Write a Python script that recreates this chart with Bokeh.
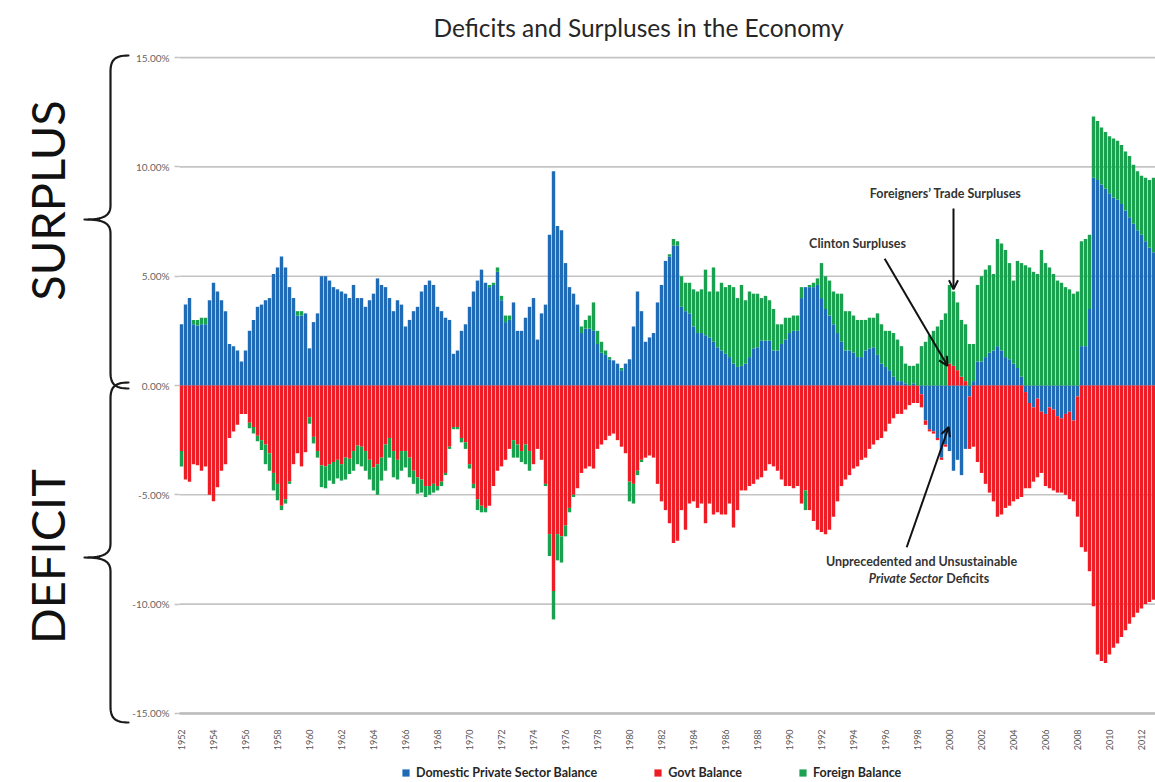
import numpy as np
from math import pi
from bokeh.plotting import figure
from bokeh.models import (ColumnDataSource, Range1d, FixedTicker, PrintfTickFormatter,
                          Legend, LegendItem, Arrow, OpenHead)
from bokeh.embed import file_html
from bokeh.resources import INLINE
from bokeh.core.properties import value

# ---------------- data (quarterly, % of GDP), 1952Q1 .. 2012Q4 ----------------
first_year = 1952
private = [
    2.8, 3.7, 4.0, 2.8,   2.75, 2.8, 2.8, 3.9,   4.7, 4.3, 3.9, 3.4,   1.9, 1.8, 1.6, 1.1,
    1.6, 2.5, 3.0, 3.6,   3.7, 3.9, 4.0, 5.1,   5.4, 5.9, 5.4, 4.5,   4.0, 3.2, 3.2, 3.3,
    1.7, 2.9, 3.3, 5.0,   5.0, 4.8, 4.5, 4.4,   4.3, 4.2, 4.0, 4.6,   4.0, 4.0, 3.6, 3.9,
    4.2, 4.9, 4.6, 4.5,   4.0, 3.4, 3.9, 3.7,   2.7, 3.0, 3.4, 3.6,   4.3, 4.6, 4.8, 4.6,
    3.6, 3.4, 3.1, 3.0,   1.45, 1.6, 2.5, 2.8,  3.6, 4.3, 4.8, 5.3,   4.7, 4.5, 4.6, 5.2,
    3.9, 2.9, 3.0, 3.8,   2.5, 2.5, 3.1, 3.6,   4.0, 2.1, 3.3, 3.7,   6.9, 9.8, 7.3, 7.1,
    5.6, 4.5, 4.2, 3.7,   2.4, 2.6, 2.6, 2.5,   1.9, 1.5, 1.4, 1.2,   1.15, 1.0, 0.7, 1.0,
    1.2, 2.7, 4.3, 3.4,   2.0, 2.2, 2.4, 3.8,   4.6, 5.7, 5.9, 6.4,   6.4, 3.6, 3.4, 3.3,
    2.7, 2.4, 2.4, 2.3,   2.2, 2.0, 1.75, 1.6,  1.45, 1.3, 1.0, 0.85, 0.9, 1.0, 1.3, 1.7,
    1.75, 2.05, 2.05, 2.05, 1.6, 1.6, 1.9, 2.1, 2.4, 2.5, 2.5, 4.0,   4.5, 4.5, 4.5, 4.6,
    4.0, 3.5, 3.2, 2.8,   2.4, 2.0, 1.6, 1.6,   1.5, 1.3, 1.3, 1.6,   1.7, 1.75, 1.4, 1.0,
    0.85, 0.7, 0.4, 0.2,  0.2, 0.1, 0.0, 0.1,   0.0, -0.4, -1.6, -2.0, -2.1, -2.4, -3.3, -2.7,
    -3.0, -3.9, -3.4, -4.1, -2.9, -0.5, 0.2, 1.1, 1.1, 1.3, 1.5, 1.6,  1.8, 1.6, 1.3, 1.2,
    1.0, 0.8, 0.4, -0.3,  -0.8, -1.0, -0.6, -1.2, -1.3, -1.0, -1.1, -1.4, -1.5, -1.3, -1.2, -1.6,
    -0.5, 1.8, 1.8, 3.5,  9.5, 9.4, 9.2, 9.0,   8.8, 8.6, 8.5, 8.3,   8.0, 7.7, 7.4, 7.1,
    6.9, 6.6, 6.3, 6.1,
]
govt = [
    -3.0, -4.3, -4.4, -3.6,  -3.65, -3.9, -3.7, -5.0,  -5.3, -4.65, -3.9, -3.6,  -2.4, -2.1, -1.8, -1.3,
    -1.3, -1.7, -1.9, -2.3,  -2.5, -2.7, -3.1, -4.0,   -4.5, -5.5, -5.2, -4.4,   -3.6, -3.1, -3.7, -3.05,
    -1.45, -2.35, -3.0, -3.65, -3.7, -3.6, -3.5, -3.4, -3.6, -3.3, -3.35, -3.0,  -2.75, -2.8, -3.0, -3.4,
    -3.75, -3.6, -3.3, -2.7, -2.4, -3.0, -3.4, -3.0,   -3.0, -3.3, -3.9, -4.2,   -4.3, -4.6, -4.6, -4.5,
    -4.6, -4.4, -4.0, -2.8,  -1.9, -1.9, -2.4, -2.6,   -3.6, -4.5, -5.2, -5.5,   -5.6, -5.5, -4.6, -3.9,
    -3.7, -3.4, -2.9, -2.5,  -2.7, -3.0, -2.7, -3.0,   -3.6, -2.9, -3.4, -4.5,   -6.8, -9.4, -6.8, -6.9,
    -6.4, -5.6, -5.0, -4.7,  -4.0, -3.8, -3.7, -3.8,   -2.9, -2.7, -2.5, -2.3,   -2.2, -2.5, -2.8, -3.1,
    -4.4, -4.5, -3.9, -3.4,  -3.3, -3.2, -3.3, -4.5,   -5.3, -5.7, -6.3, -7.2,   -7.1, -5.7, -6.6, -5.4,
    -5.3, -5.6, -5.4, -6.3,  -5.4, -5.9, -5.8, -5.9,   -5.9, -5.4, -6.5, -5.7,   -4.8, -4.8, -4.6, -4.5,
    -4.3, -4.2, -3.9, -3.6,  -3.7, -3.9, -4.3, -4.6,   -4.6, -4.7, -4.6, -5.4,   -4.8, -5.7, -6.2, -6.6,
    -6.7, -6.8, -6.6, -6.0,  -5.3, -4.6, -4.3, -4.1,   -3.8, -3.7, -3.4, -3.3,   -2.9, -2.7, -2.5, -2.4,
    -2.1, -1.75, -1.5, -1.3, -1.3, -1.1, -0.9, -0.8,   -0.8, -0.6, -0.2, -0.1,   -0.1, -0.1, -0.1, -0.1,
    1.0, 0.9, 0.7, 0.4,      0.2, -2.4, -2.8, -3.5,    -4.0, -4.5, -4.9, -5.3,   -6.0, -5.9, -5.6, -5.5,
    -5.3, -5.2, -5.1, -4.4,  -3.9, -3.4, -3.6, -2.8,   -3.3, -3.7, -3.7, -3.5,   -3.4, -3.7, -4.0, -3.7,
    -5.5, -7.4, -7.6, -8.5,  -10.1, -12.3, -12.6, -12.7, -12.3, -12.0, -11.8, -11.5, -11.2, -10.9, -10.6, -10.4,
    -10.2, -10.0, -9.9, -9.8,
]
foreign = [
    -0.7, 0.0, 0.0, 0.2,     0.25, 0.3, 0.3, 0.0,      0.0, 0.0, 0.0, 0.0,       0.0, 0.0, 0.0, 0.0,
    0.0, -0.25, -0.3, -0.25, -0.45, -0.9, -0.8, -0.8,  -0.75, -0.2, -0.2, -0.1,  0.0, 0.2, 0.2, 0.0,
    -0.3, -0.3, -0.3, -1.0,  -1.0, -0.75, -1.0, -0.85, -0.75, -1.0, -0.7, -0.9,  -0.85, -0.9, -0.9, -0.9,
    -1.05, -1.4, -1.05, -1.2, -0.9, -1.2, -0.9, -0.9,  -0.75, -0.9, -0.6, -0.75, -0.6, -0.5, -0.4, -0.4,
    -0.2, -0.2, -0.1, -0.1,  -0.1, -0.1, -0.2, -0.3,   -0.2, -0.2, -0.5, -0.3,   -0.2, 0.1, 0.1, 0.2,
    0.2, 0.3, 0.2, -0.8,     -0.6, -0.5, -0.9, -0.9,   0.0, 0.0, 0.0, -0.1,      -1.0, -1.3, -1.2, -1.2,
    -0.5, -0.2, -0.1, 0.0,   0.3, 0.4, 0.6, 1.3,       0.6, 0.5, 0.2, 0.1,       0.0, 0.0, 0.1, 0.0,
    -0.9, -0.9, -0.2, -0.1,  0.0, 0.0, 0.0, 0.0,       0.0, 0.0, 0.1, 0.3,       0.2, 1.4, 1.3, 1.4,
    1.7, 1.9, 2.0, 3.0,      2.1, 3.4, 2.55, 3.1,      3.05, 3.3, 3.5, 3.15,     3.7, 2.9, 3.0, 2.5,
    2.45, 1.95, 2.05, 1.85,  1.9, 1.2, 0.9, 1.0,       0.7, 0.7, 0.7, 0.5,       -0.9, 0.1, 0.2, 0.3,
    1.6, 1.5, 1.6, 1.5,      1.8, 2.2, 1.8, 1.8,       1.7, 1.7, 1.7, 1.4,       1.4, 1.35, 1.9, 1.8,
    1.65, 1.8, 2.0, 1.9,     1.6, 0.9, 0.9, 0.8,       1.0, 1.8, 2.0, 2.3,       2.5, 2.7, 3.0, 3.3,
    3.6, 3.4, 3.1, 2.6,      2.6, 1.9, 1.7, 3.5,       3.9, 4.0, 4.0, 3.5,       4.9, 4.9, 4.9, 4.4,
    3.8, 4.9, 5.2, 5.5,      5.4, 5.2, 5.1, 6.2,       5.6, 5.4, 5.1, 4.8,       4.7, 4.5, 4.4, 4.2,
    4.3, 4.8, 4.9, 3.4,      2.8, 2.7, 2.6, 2.6,       2.6, 2.7, 2.7, 2.7,       2.7, 2.8, 2.7, 2.7,
    2.7, 2.9, 3.1, 3.4,
]
series_names = ["Domestic Private Sector Balance", "Govt Balance", "Foreign Balance"]
series_colors = ["#1F6BB6", "#EE1C24", "#19A14F"]
y_ticks = [-15, -10, -5, 0, 5, 10, 15]

n = len(private)
xs = np.arange(n)

FONT = "Lato"
DARK = "#262626"

# ---- geometry: the frame covers the canvas below the title; 4 px per quarter, 21.86 px per point
W, H, TOP = 1155, 782, 45
PX_X, PX_Y = 4.0, 21.86
FRAME_LEFT, FRAME_TOP, FRAME_BOTTOM = 0.0, float(TOP), float(H)
BAR0, ZERO = 181.0, 385.0


def dx(px):
    return (np.asarray(px, dtype=float) - BAR0) / PX_X


def dy(py):
    return (ZERO - np.asarray(py, dtype=float)) / PX_Y


p = figure(width=W, height=H, output_backend="svg", toolbar_location=None,
           x_range=Range1d(float(dx(FRAME_LEFT)), float(dx(W))),
           y_range=Range1d(float(dy(FRAME_BOTTOM)), float(dy(FRAME_TOP))),
           min_border_left=0, min_border_right=0, min_border_top=TOP, min_border_bottom=0)
p.outline_line_color = None
p.xgrid.visible = False
p.ygrid.visible = False

p.title.text = "Deficits and Surpluses in the Economy"
p.title.align = "left"
p.title.offset = 433
p.title.text_font = FONT
p.title.text_font_style = "normal"
p.title.text_font_size = "24.5px"
p.title.text_color = DARK
p.title.standoff = 8

# horizontal gridlines across the plotted quarters
x_end = float(dx(W))
p.segment(x0=[-0.5] * len(y_ticks), x1=[x_end] * len(y_ticks), y0=y_ticks, y1=y_ticks,
          line_color="#c4c4c4", line_width=1.6, level="underlay")

yax = p.yaxis[0]
yax.fixed_location = -0.5
yax.bounds = (-15, 15)
yax.ticker = FixedTicker(ticks=y_ticks)
yax.formatter = PrintfTickFormatter(format="%.2f%%")
yax.axis_line_color = None
yax.major_tick_line_color = "#c4c4c4"
yax.major_tick_line_width = 1.6
yax.major_tick_out = 5
yax.major_tick_in = 0
yax.minor_tick_line_color = None
yax.major_label_standoff = 5
yax.major_label_text_font = FONT
yax.major_label_text_font_size = "10px"
yax.major_label_text_color = "#666666"

xax = p.xaxis[0]
xax.fixed_location = -15
xax.bounds = (-0.5, x_end)
tick_idx = list(range(0, n, 8))
xax.ticker = FixedTicker(ticks=tick_idx)
xax.major_label_overrides = {i: str(first_year + i // 4) for i in tick_idx}
xax.major_label_orientation = pi / 2
xax.axis_line_color = "#bdbdbd"
xax.axis_line_width = 2.5
xax.major_tick_line_color = None
xax.minor_tick_line_color = None
xax.major_label_standoff = 10
xax.major_label_text_font = FONT
xax.major_label_text_font_size = "9px"
xax.major_label_text_color = "#555555"

# stacked columns: positives stack upward, negatives downward, in series order
pos = np.zeros(n)
neg = np.zeros(n)
renderers = []
for vals, color in zip([private, govt, foreign], series_colors):
    v = np.array(vals, dtype=float)
    bottom = np.where(v >= 0, pos, neg + v)
    top = np.where(v >= 0, pos + v, neg)
    pos = pos + np.where(v >= 0, v, 0)
    neg = neg + np.where(v < 0, v, 0)
    src = ColumnDataSource(dict(x=xs, bottom=bottom, top=top))
    r = p.vbar(x="x", bottom="bottom", top="top", width=0.85, source=src,
               fill_color=color, line_color=None)
    renderers.append(r)

legend = Legend(items=[LegendItem(label=nm, renderers=[r]) for nm, r in zip(series_names, renderers)],
                orientation="horizontal", location=(401, 2),
                label_text_font=FONT, label_text_font_style="bold", label_text_font_size="12.5px",
                label_text_color=DARK, glyph_width=9, glyph_height=9, label_standoff=6,
                spacing=56, padding=0, margin=0, border_line_color=None,
                background_fill_alpha=0)
p.add_layout(legend, "center")


def txt(x, y, s, align="center", style="bold"):
    p.text(x=[x], y=[y], text=[s], text_align=align, text_baseline="middle",
           text_font=value(FONT), text_font_style=style, text_font_size="12.5px",
           text_color="#333333")


txt(191.0, 8.78, "Foreigners’ Trade Surpluses")
txt(169.0, 6.49, "Clinton Surpluses")
txt(185.0, -8.05, "Unprecedented and Unsustainable")
txt(190.3, -8.82, "Private Sector", align="right", style="bold italic")
txt(191.2, -8.82, "Deficits", align="left")

for (x0, y0, x1, y1) in [(193.0, 8.1, 193.0, 4.4),
                         (175.8, 5.8, 191.5, 0.9),
                         (181.3, -7.4, 191.8, -1.9)]:
    p.add_layout(Arrow(end=OpenHead(size=9, line_width=2, line_color="#111111"),
                       x_start=x0, y_start=y0, x_end=x1, y_end=y1,
                       line_width=2, line_color="#111111"))


# braces left of the axis
def cubic(p0, c0, c1, p1, k=16):
    t = np.linspace(0, 1, k)[:, None]
    return ((1 - t) ** 3) * np.array(p0) + 3 * ((1 - t) ** 2) * t * np.array(c0) \
        + 3 * (1 - t) * t ** 2 * np.array(c1) + t ** 3 * np.array(p1)


def brace(y0, y1, ym, xl=110, xe=128, xt=84):
    parts = [
        cubic((xe, y0), (115, y0), (xl, y0 + 4), (xl, y0 + 16)),
        np.array([[xl, y0 + 16], [xl, ym - 14]]),
        cubic((xl, ym - 14), (xl, ym - 3), (102, ym), (xt, ym)),
        cubic((xt, ym), (102, ym), (xl, ym + 3), (xl, ym + 14)),
        np.array([[xl, ym + 14], [xl, y1 - 16]]),
        cubic((xl, y1 - 16), (xl, y1 - 4), (115, y1), (xe, y1)),
    ]
    pts = np.vstack(parts)
    p.line(dx(pts[:, 0]), dy(pts[:, 1]), line_width=2.2, line_color="#1a1a1a",
           line_join="round", line_cap="round")


brace(55, 388, 219)
brace(382, 722, 557)

p.text(x=dx([46, 46]), y=dy([200, 556]), text=["SURPLUS", "DEFICIT"], angle=pi / 2,
       text_align="center", text_baseline="middle", text_font=value(FONT),
       text_font_size="47px", text_color="#111111")

open("out.html", "w").write(file_html(p, INLINE))
